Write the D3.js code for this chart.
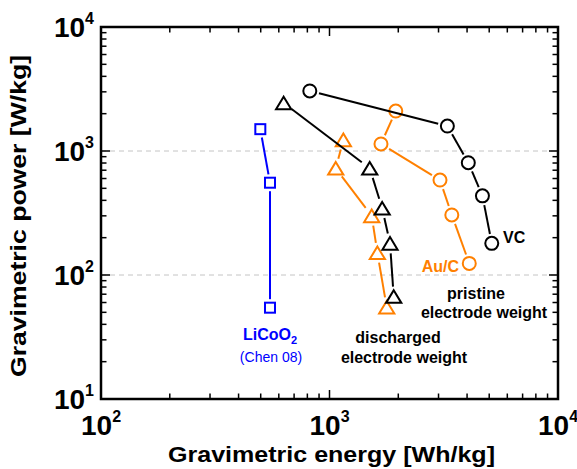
<!DOCTYPE html>
<html><head><meta charset="utf-8">
<script src="https://cdn.jsdelivr.net/npm/d3@7"></script>
<style>
body{margin:0;background:#fff}
svg{display:block}
text{font-family:Arial,"Liberation Sans",Helvetica,sans-serif}
</style>
</head><body>
<svg id="chart" width="577" height="469"></svg>
<script>
// Ragone data: gravimetric energy [Wh/kg] vs gravimetric power [W/kg]
const vcEnergy = [820, 3280, 4050, 4670, 5130];
const vcPower = [3050, 1590, 805, 435, 180];
const aucEnergy = [1950, 1680, 3045, 3430, 4090];
const aucPower = [2100, 1140, 583, 305, 124];
const vcDischEnergy = [630, 1500, 1700, 1840, 1910];
const vcDischPower = [2440, 725, 345, 180, 67];
const aucDischEnergy = [1150, 1065, 1530, 1620, 1780];
const aucDischPower = [1230, 725, 300, 151, 55];
const licoo2Energy = [498, 549, 549];
const licoo2Power = [1500, 555, 54.5];

const xTickExponents = [2, 3, 4];
const yTickExponents = [1, 2, 3, 4];
const gridPowers = [100, 1000];

const ORANGE = "#ff8000", BLUE = "#0000ff", BLACK = "#000";

const svg = d3.select("#chart");
const L = 101, R = 558, T = 27, B = 399;
const x = d3.scaleLog().domain([100, 10000]).range([L, R]);
const y = d3.scaleLog().domain([10, 10000]).range([B, T]);

// dashed grid at 10^2 and 10^3
svg.append("g").selectAll("line").data(gridPowers).join("line")
  .attr("x1", L).attr("x2", R)
  .attr("y1", d => y(d)).attr("y2", d => y(d))
  .attr("stroke", "#c4c4c4").attr("stroke-width", 1)
  .attr("stroke-dasharray", "5,4");

// ticks (inward, on all four sides)
const xt = x.ticks(), yt = y.ticks();
const isMajor = v => Math.abs(Math.log10(v) - Math.round(Math.log10(v))) < 1e-9;
const tg = svg.append("g").attr("stroke", BLACK).attr("stroke-width", 1.5);
xt.forEach(v => {
  const len = isMajor(v) ? 9 : 5.5, px = x(v);
  tg.append("line").attr("x1", px).attr("x2", px).attr("y1", B).attr("y2", B - len);
  tg.append("line").attr("x1", px).attr("x2", px).attr("y1", T).attr("y2", T + len);
});
yt.forEach(v => {
  const len = isMajor(v) ? 9 : 5.5, py = y(v);
  tg.append("line").attr("y1", py).attr("y2", py).attr("x1", L).attr("x2", L + len);
  tg.append("line").attr("y1", py).attr("y2", py).attr("x1", R).attr("x2", R - len);
});

// frame
svg.append("rect").attr("x", L).attr("y", T).attr("width", R - L).attr("height", B - T)
  .attr("fill", "none").attr("stroke", BLACK).attr("stroke-width", 2.5);

// tick labels 10^n
function powLabel(sel, e) {
  sel.append("tspan").text("10");
  sel.append("tspan").attr("font-size", 16).attr("dy", -13).text(e);
}
svg.append("g").selectAll("text").data(xTickExponents).join("text")
  .attr("x", d => x(Math.pow(10, d))).attr("y", 435)
  .attr("text-anchor", "middle").attr("font-size", 28).attr("font-weight", "bold")
  .each(function(d){ powLabel(d3.select(this), d); });
svg.append("g").selectAll("text").data(yTickExponents).join("text")
  .attr("x", 94).attr("y", d => y(Math.pow(10, d)) + 10)
  .attr("text-anchor", "end").attr("font-size", 28).attr("font-weight", "bold")
  .each(function(d){ powLabel(d3.select(this), d); });

// axis titles
svg.append("text").attr("x", 331.5).attr("y", 462).attr("text-anchor", "middle")
  .attr("font-size", 22.5).attr("font-weight", "bold")
  .attr("textLength", 327).attr("lengthAdjust", "spacingAndGlyphs")
  .text("Gravimetric energy [Wh/kg]");
svg.append("text").attr("transform", "translate(26,216) rotate(-90)").attr("text-anchor", "middle")
  .attr("font-size", 22.5).attr("font-weight", "bold")
  .attr("textLength", 322).attr("lengthAdjust", "spacingAndGlyphs")
  .text("Gravimetric power [W/kg]");

// marker shapes
const markers = {
  circle: { half: 6.5, draw: g => g.append("circle").attr("r", 6.5) },
  square: { half: 5.5, draw: g => g.append("rect").attr("x", -5).attr("y", -5).attr("width", 10).attr("height", 10) },
  triangle: { half: 7, draw: g => g.append("path").attr("d", "M0,-6.3L7.6,6.3L-7.6,6.3Z") }
};

function drawSeries(energy, power, color, shape) {
  const pts = energy.map((e, i) => [x(e), y(power[i])]);
  const m = markers[shape];
  const g = svg.append("g").attr("stroke", color).attr("stroke-width", 2).attr("fill", "none");
  // connecting segments stop short of each marker
  const trim = m.half + 3;
  for (let i = 0; i < pts.length - 1; i++) {
    const [x0, y0] = pts[i], [x1, y1] = pts[i + 1];
    const dx = x1 - x0, dy = y1 - y0, d = Math.hypot(dx, dy);
    if (d <= 2 * trim) continue;
    const ux = dx / d, uy = dy / d;
    g.append("line")
      .attr("x1", x0 + ux * trim).attr("y1", y0 + uy * trim)
      .attr("x2", x1 - ux * trim).attr("y2", y1 - uy * trim);
  }
  pts.forEach(p => {
    const mg = g.append("g").attr("transform", `translate(${p[0]},${p[1]})`);
    m.draw(mg);
  });
}

drawSeries(licoo2Energy, licoo2Power, BLUE, "square");
drawSeries(aucDischEnergy, aucDischPower, ORANGE, "triangle");
drawSeries(vcDischEnergy, vcDischPower, BLACK, "triangle");
drawSeries(aucEnergy, aucPower, ORANGE, "circle");
drawSeries(vcEnergy, vcPower, BLACK, "circle");

// annotations
function label(tx, ty, txt, opts = {}) {
  return svg.append("text").attr("x", tx).attr("y", ty)
    .attr("text-anchor", opts.anchor || "middle")
    .attr("font-size", opts.size || 16)
    .attr("font-weight", opts.weight || "bold")
    .attr("fill", opts.color || BLACK).text(txt);
}
label(503, 243, "VC", { anchor: "start" });
label(459, 272, "Au/C", { anchor: "end", color: ORANGE });
label(476, 299, "pristine");
label(484, 318, "electrode weight");
label(398, 343, "discharged");
label(404, 363, "electrode weight");
const lc = label(270, 340, "LiCoO", { color: BLUE });
lc.append("tspan").attr("font-size", 11).attr("dy", 4).text("2");
label(271, 362, "(Chen 08)", { color: BLUE, weight: "normal", size: 14 });
</script>
</body></html>
